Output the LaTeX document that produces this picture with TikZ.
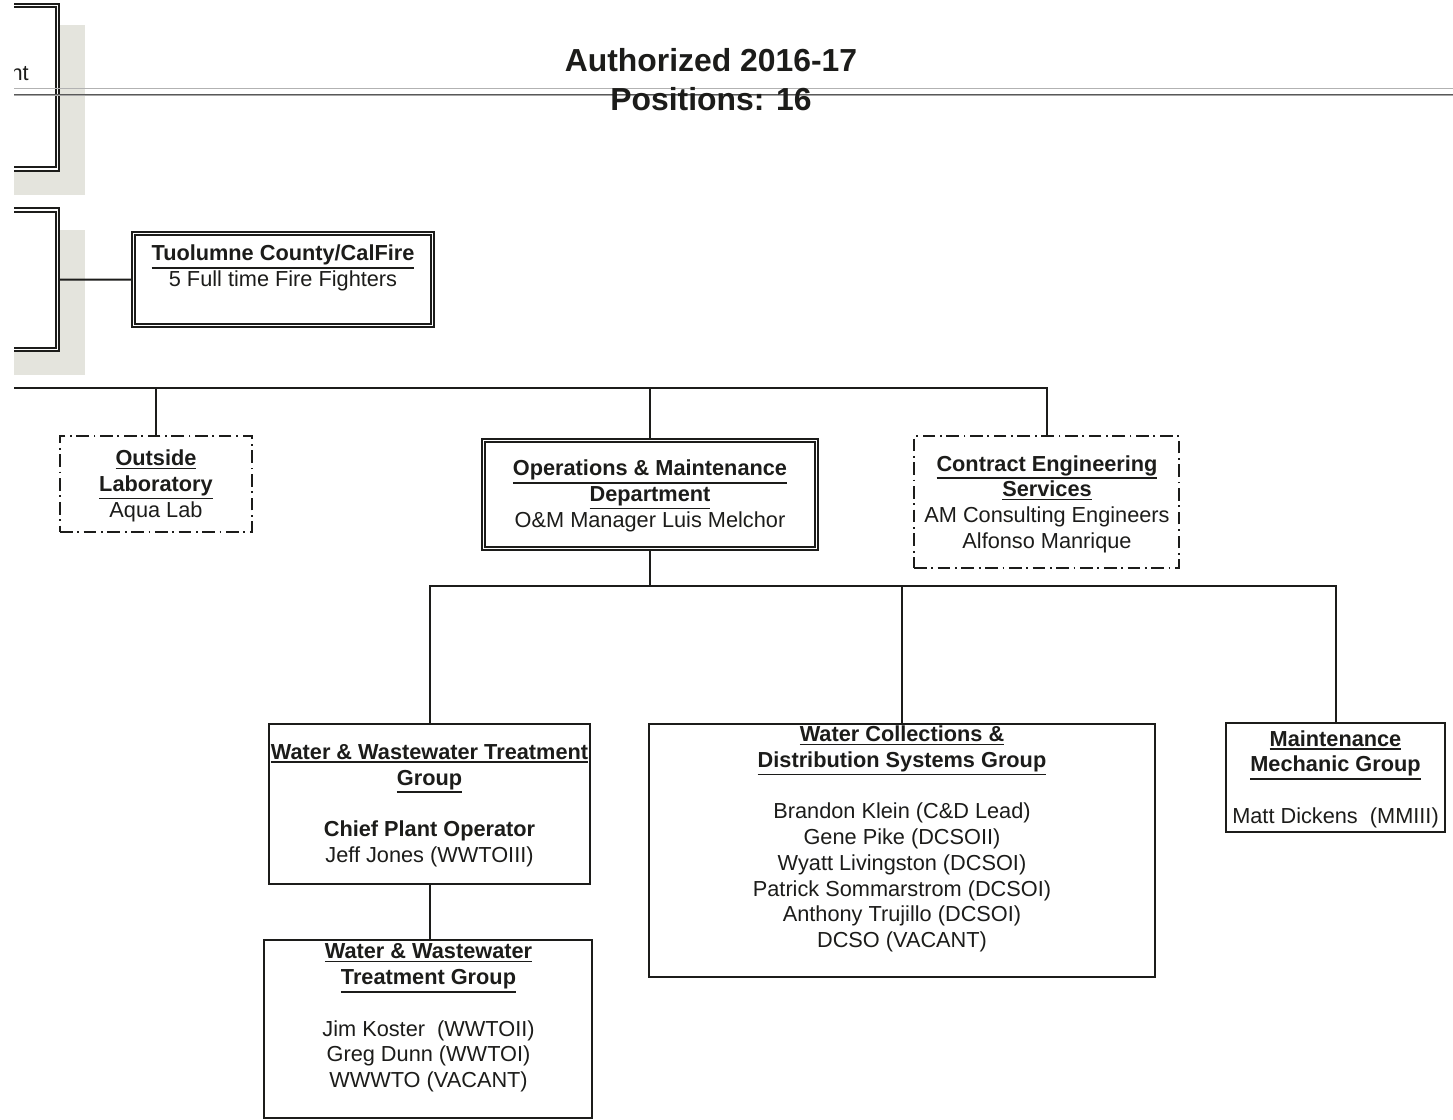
\documentclass[tikz,border=0pt]{standalone}
\usepackage{fontspec}
\setmainfont{Liberation Sans}
\definecolor{ink}{RGB}{28,28,26}
\definecolor{shadowgray}{RGB}{228,228,221}
% thick underline that sits below the descenders, like \underline
\newcommand\uln[1]{\setbox0\hbox{#1}\rlap{\smash{\vrule width\wd0 height\dimexpr-\dp0-1.2pt\relax depth\dimexpr\dp0+2.5pt\relax}}\box0}
\begin{document}
\begin{tikzpicture}[x=0.75pt,y=-0.75pt,
    plainbox/.style={draw=ink,line width=1.5pt,fill=white,inner sep=0pt},
    dblbox/.style={draw=ink,line width=1.4pt,double=white,double distance=1.4pt,fill=white,inner sep=0pt},
    dotbox/.style={draw=ink,line width=1.2pt,dash pattern=on 9.5pt off 3.5pt on 1.3pt off 3.5pt,inner sep=0pt},
    txt/.style={text=ink,align=center,font=\fontsize{16.3}{19.3}\selectfont,inner sep=0pt},
    link/.style={draw=ink,line width=1.5pt}]
    \useasboundingbox (0,0) rectangle (1453,1120);
    \begin{scope}
        \clip (14,-5) rectangle (1460,1125);

        % boxes cut off at the left edge, with their shadows
        \fill[shadowgray] (-50,25) rectangle (85,195);
        \fill[shadowgray] (-50,230) rectangle (85,375);
        \node[dblbox,minimum width=236.25pt,minimum height=122.6pt] (leftTop) at (-100,87.25) {};
        \node[dblbox,minimum width=236.25pt,minimum height=104.6pt] (leftBot) at (-100,279.75) {};
        \node[txt,anchor=base east] (leftTopTxt) at (29,81) {nt};

        % header rule and title
        \coordinate (ruleL) at (14,88);
        \coordinate (ruleR) at (1460,88);
        \draw[black!30,line width=0.7pt] (ruleL) -- (ruleR);
        \draw[black!65,line width=0.7pt,double=black!35,double distance=0.6pt] ([yshift=-5.3pt]ruleL) -- ([yshift=-5.3pt]ruleR);
        \node[txt,font=\fontsize{23.9}{29.3}\selectfont\bfseries] (title) at (711,80) {Authorized 2016-17\\Positions: 16};

        % fire service
        \node[dblbox,minimum width=224.25pt,minimum height=69pt] (tuolBox) at (283,279.5) {};
        \node[txt] (tuolTxt) at (283,268) {\bfseries\uln{Tuolumne County/CalFire}\\5 Full time Fire Fighters};
        \draw[link] (leftBot.east) -- (tuolBox.west);

        % second row
        \node[dotbox,minimum width=144pt,minimum height=72pt] (labBox) at (156,484) {};
        \node[txt] (labTxt) at (156,486) {\bfseries\uln{Outside}\\\bfseries\uln{Laboratory}\\Aqua Lab};

        \node[dblbox,minimum width=249.75pt,minimum height=81pt] (omBox) at (650,494.5) {};
        \node[txt] (omTxt) at (650,496) {\bfseries\uln{Operations \& Maintenance}\\\bfseries\uln{Department}\\O\&M Manager Luis Melchor};

        \node[dotbox,minimum width=198.75pt,minimum height=99pt] (ceBox) at (1046.5,502) {};
        \node[txt] (ceTxt) at (1047,504) {\bfseries\uln{Contract Engineering}\\\bfseries\uln{Services}\\AM Consulting Engineers\\Alfonso Manrique};

        \coordinate (bus1) at (14,388);
        \draw[link] (bus1) -| (ceBox.north);
        \foreach \b in {labBox,omBox} {
            \draw[link] (\b.north) -- (\b.north |- bus1);
        }

        % groups
        \node[plainbox,minimum width=240.75pt,minimum height=120pt] (wwtBox) at (429.5,804) {};
        \node[txt] (wwtTxt) at (429.5,805.5) {\bfseries\uln{Water \& Wastewater Treatment}\\\bfseries\uln{Group}\\[\baselineskip]\bfseries Chief Plant Operator\\Jeff Jones (WWTOIII)};

        \node[plainbox,minimum width=379.5pt,minimum height=189.75pt] (wcdBox) at (902,850.5) {};
        \node[txt] (wcdTxt) at (902,839) {\bfseries\uln{Water Collections \&}\\\bfseries\uln{Distribution Systems Group}\\[\baselineskip]Brandon Klein (C\&D Lead)\\Gene Pike (DCSOII)\\Wyatt Livingston (DCSOI)\\Patrick Sommarstrom (DCSOI)\\Anthony Trujillo (DCSOI)\\DCSO (VACANT)};

        \node[plainbox,minimum width=164.25pt,minimum height=81.75pt] (mmgBox) at (1335.5,777.5) {};
        \node[txt] (mmgTxt) at (1335.5,779) {\bfseries\uln{Maintenance}\\\bfseries\uln{Mechanic Group}\\[\baselineskip]Matt Dickens\ \ (MMIII)};

        \node[plainbox,minimum width=246pt,minimum height=133.5pt] (wwt2Box) at (428,1029) {};
        \node[txt] (wwt2Txt) at (428.5,1018) {\bfseries\uln{Water \& Wastewater}\\\bfseries\uln{Treatment Group}\\[\baselineskip]Jim Koster\ \ (WWTOII)\\Greg Dunn (WWTOI)\\WWWTO (VACANT)};

        \coordinate (bus2) at (650,586);
        \draw[link] (omBox.south) -- (bus2);
        \draw[link] (wwtBox.north) |- (bus2) -| (mmgBox.north);
        \draw[link] (wcdBox.north) -- (wcdBox.north |- bus2);
        \draw[link] (wwtBox.south) -- (wwtBox.south |- wwt2Box.north);
    \end{scope}
\end{tikzpicture}
\end{document}
